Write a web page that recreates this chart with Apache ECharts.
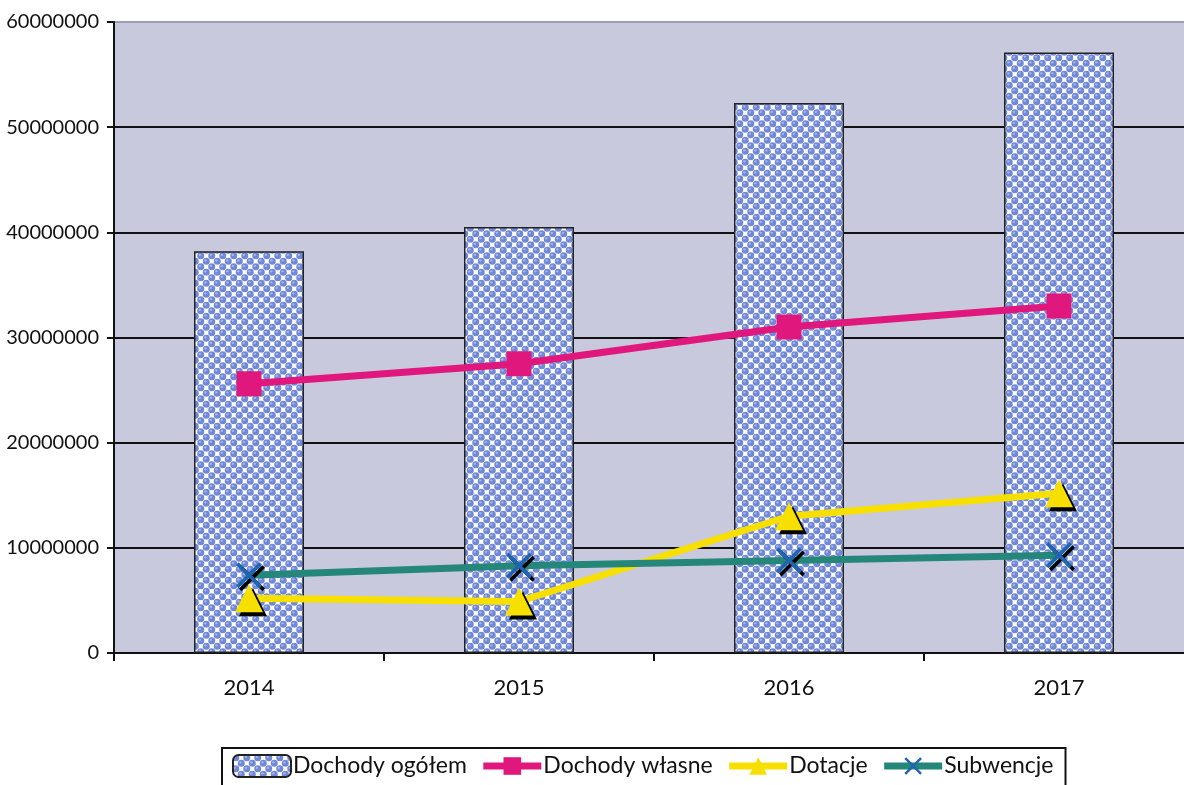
<!DOCTYPE html>
<html>
<head>
<meta charset="utf-8">
<script src="https://cdn.jsdelivr.net/npm/echarts@6/dist/echarts.min.js"></script>
<style>
  html, body { margin: 0; padding: 0; background: #fff; }
  #chart { width: 1184px; height: 785px; }
</style>
</head>
<body>
<div id="chart"></div>
<script>
  // dane
  var years = ['2014', '2015', '2016', '2017'];
  var dochodyOgolem = [38200000, 40500000, 52300000, 57100000];
  var dochodyWlasne = [25600000, 27500000, 31000000, 33000000];
  var dotacje = [5200000, 4900000, 13000000, 15200000];
  var subwencje = [7400000, 8300000, 8800000, 9300000];
  var yTicks = [0, 10000000, 20000000, 30000000, 40000000, 50000000, 60000000];

  // wzor kropek dla slupkow
  function dotPattern() {
    var c = document.createElement('canvas');
    c.width = 11; c.height = 11;
    var ctx = c.getContext('2d');
    ctx.fillStyle = '#ffffff';
    ctx.fillRect(0, 0, 11, 11);
    var pts = [[2.75, 2.75], [8.25, 8.25], [8.25, -2.75], [-2.75, 8.25], [13.75, 2.75], [2.75, 13.75]];
    pts.forEach(function (p) {
      ctx.beginPath();
      ctx.arc(p[0], p[1], 3.5, 0, Math.PI * 2);
      ctx.fillStyle = '#7088d6';
      ctx.fill();
      ctx.beginPath();
      ctx.arc(p[0] - 0.9, p[1] - 0.9, 1.2, 0, Math.PI * 2);
      ctx.fillStyle = '#a7b6ec';
      ctx.fill();
    });
    return c;
  }

  var xSymbol = 'path://M0,1L1,0L5,4L9,0L10,1L6,5L10,9L9,10L5,6L1,10L0,9L4,5Z';

  var chart = echarts.init(document.getElementById('chart'));
  var option = {
    animation: false,
    textStyle: { fontFamily: 'Lato, "Open Sans", sans-serif' },
    grid: {
      left: 114,
      right: -10,
      top: 22,
      bottom: 132,
      outerBoundsMode: 'none',
      containLabel: false,
      show: true,
      backgroundColor: '#c8c9dc',
      borderWidth: 0
    },
    legend: {
      left: 222,
      top: 748,
      padding: [6, 12, 12, 10],
      borderColor: '#111',
      borderWidth: 2,
      itemGap: 13,
      itemWidth: 58,
      itemHeight: 22,
      lineStyle: { width: 7 },
      textStyle: { fontSize: 23, color: '#111', padding: [0, 0, 0, -3] },
      data: ['Dochody ogółem', 'Dochody własne', 'Dotacje', 'Subwencje']
    },
    xAxis: {
      type: 'category',
      data: years,
      boundaryGap: true,
      axisLine: { lineStyle: { color: '#111', width: 2 } },
      axisTick: { show: true, length: 8, lineStyle: { color: '#111', width: 2 } },
      axisLabel: { fontSize: 22, color: '#111', margin: 24 },
      splitLine: { show: false }
    },
    yAxis: {
      type: 'value',
      min: yTicks[0],
      max: yTicks[yTicks.length - 1],
      interval: yTicks[1] - yTicks[0],
      axisLine: { show: true, lineStyle: { color: '#111', width: 2 } },
      axisTick: { show: true, length: 7, lineStyle: { color: '#111', width: 2 } },
      axisLabel: {
        fontSize: 20,
        color: '#111',
        margin: 15,
        formatter: function (v) { return String(v); }
      },
      splitLine: {
        lineStyle: {
          width: 2,
          color: ['#111', '#111', '#111', '#111', '#111', '#111', '#9c9cb4']
        }
      }
    },
    series: [{
      name: 'Dochody ogółem',
      type: 'bar',
      data: dochodyOgolem,
      barWidth: 110,
      itemStyle: {
        color: { image: dotPattern(), repeat: 'repeat' },
        borderColor: '#222',
        borderWidth: 1.5
      }
    }, {
      name: 'Dochody własne',
      type: 'line',
      data: dochodyWlasne,
      symbol: 'rect',
      symbolSize: 25,
      lineStyle: { color: '#e0177c', width: 7 },
      itemStyle: { color: '#e0177c' }
    }, {
      name: 'Dotacje',
      type: 'line',
      data: dotacje,
      symbol: 'triangle',
      symbolSize: 28,
      lineStyle: { color: '#f7e000', width: 7 },
      itemStyle: {
        color: '#f7e000',
        shadowColor: '#000',
        shadowBlur: 0,
        shadowOffsetX: 4,
        shadowOffsetY: 4
      }
    }, {
      name: 'Subwencje',
      type: 'line',
      data: subwencje,
      symbol: xSymbol,
      symbolSize: 26,
      lineStyle: { color: '#25877a', width: 7 },
      itemStyle: {
        color: '#1f65b0',
        shadowColor: '#000',
        shadowBlur: 0,
        shadowOffsetX: 3,
        shadowOffsetY: 3
      }
    }]
  };
  chart.setOption(option);
</script>
</body>
</html>
